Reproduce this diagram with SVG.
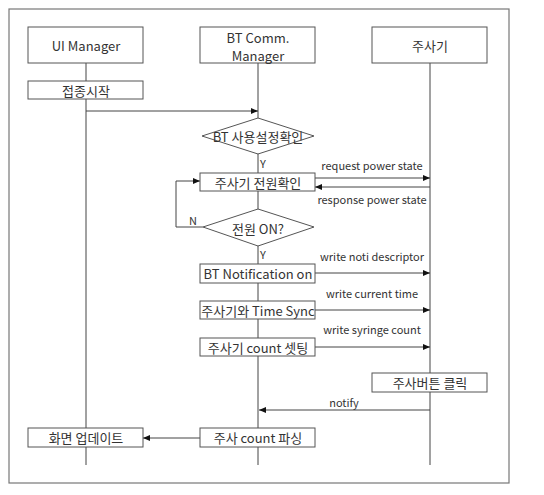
<svg xmlns="http://www.w3.org/2000/svg" width="544" height="495" viewBox="0 0 544 495">
<style>
.box{fill:#fff;stroke:#555;stroke-width:1}
.ln{fill:none;stroke:#444;stroke-width:1}
.t{font-family:"Noto Sans CJK KR","Liberation Sans",sans-serif;font-size:13px;fill:#333;stroke:none;text-anchor:middle;dominant-baseline:central}
.s{font-family:"Noto Sans CJK KR","Liberation Sans",sans-serif;font-size:11px;fill:#333;stroke:none;text-anchor:middle;dominant-baseline:central}
</style>
<defs>
<marker id="ah" markerWidth="8" markerHeight="8" refX="7" refY="4" orient="auto" markerUnits="userSpaceOnUse">
<path d="M0,1 L7,4 L0,7 Z" fill="#111" stroke="none"/>
</marker>
</defs>
<rect x="0" y="0" width="544" height="495" fill="#fff"/>
<rect x="9" y="9" width="500" height="474" fill="none" stroke="#777" stroke-width="1.2"/>
<g id="lifelines" class="ln">
<line x1="86" y1="63" x2="86" y2="465"/>
<line x1="258" y1="63" x2="258" y2="465"/>
<line x1="430" y1="63" x2="430" y2="465"/>
</g>
<g id="connectors" class="ln">
<line x1="86" y1="111" x2="258" y2="111" marker-end="url(#ah)"/>
<line x1="315" y1="178" x2="430" y2="178" marker-end="url(#ah)"/>
<line x1="430" y1="187" x2="315" y2="187" marker-end="url(#ah)"/>
<polyline points="203,227 176,227 176,181 200,181" marker-end="url(#ah)"/>
<line x1="315" y1="273" x2="430" y2="273" marker-end="url(#ah)"/>
<line x1="315" y1="310" x2="430" y2="310" marker-end="url(#ah)"/>
<line x1="315" y1="347" x2="430" y2="347" marker-end="url(#ah)"/>
<line x1="430" y1="410" x2="259" y2="410" marker-end="url(#ah)"/>
<line x1="200" y1="438" x2="143" y2="438" marker-end="url(#ah)"/>
<text class="s" x="372" y="165">request power state</text>
<text class="s" x="372" y="199">response power state</text>
<text class="s" x="193" y="220">N</text>
<text class="s" x="263" y="163">Y</text>
<text class="s" x="263" y="254">Y</text>
<text class="s" x="372" y="256">write noti descriptor</text>
<text class="s" x="372" y="293">write current time</text>
<text class="s" x="372" y="329">write syringe count</text>
<text class="s" x="344" y="402">notify</text>
</g>
<g id="ui-manager"><rect class="box" x="28" y="27" width="115" height="36"/><text class="t" x="86" y="45">UI Manager</text></g>
<g id="bt-manager"><rect class="box" x="200" y="27" width="115" height="36"/><text class="t" x="258" y="37">BT Comm.</text><text class="t" x="258" y="55">Manager</text></g>
<g id="syringe"><rect class="box" x="372" y="27" width="115" height="36"/><text class="t" x="430" y="45">주사기</text></g>
<g id="start"><rect class="box" x="28" y="81" width="115" height="18"/><text class="t" x="86" y="90">접종시작</text></g>
<g id="bt-check"><polygon class="box" points="258,118 314,136 258,154 202,136"/><text class="t" x="258" y="136">BT 사용설정확인</text></g>
<g id="power-check"><rect class="box" x="200" y="173" width="115" height="18"/><text class="t" x="258" y="182">주사기 전원확인</text></g>
<g id="power-on"><polygon class="box" points="258,209 314,227 258,246 203,227"/><text class="t" x="258" y="228">전원 ON?</text></g>
<g id="bt-noti"><rect class="box" x="200" y="264" width="115" height="19"/><text class="t" x="258" y="273">BT Notification on</text></g>
<g id="time-sync"><rect class="box" x="200" y="301" width="115" height="18"/><text class="t" x="258" y="310">주사기와 Time Sync</text></g>
<g id="count-set"><rect class="box" x="200" y="338" width="115" height="18"/><text class="t" x="258" y="347">주사기 count 셋팅</text></g>
<g id="button-click"><rect class="box" x="372" y="373" width="115" height="19"/><text class="t" x="430" y="382">주사버튼 클릭</text></g>
<g id="count-parse"><rect class="box" x="200" y="428" width="115" height="19"/><text class="t" x="258" y="437">주사 count 파싱</text></g>
<g id="screen-update"><rect class="box" x="28" y="428" width="115" height="19"/><text class="t" x="86" y="437">화면 업데이트</text></g>
</svg>
